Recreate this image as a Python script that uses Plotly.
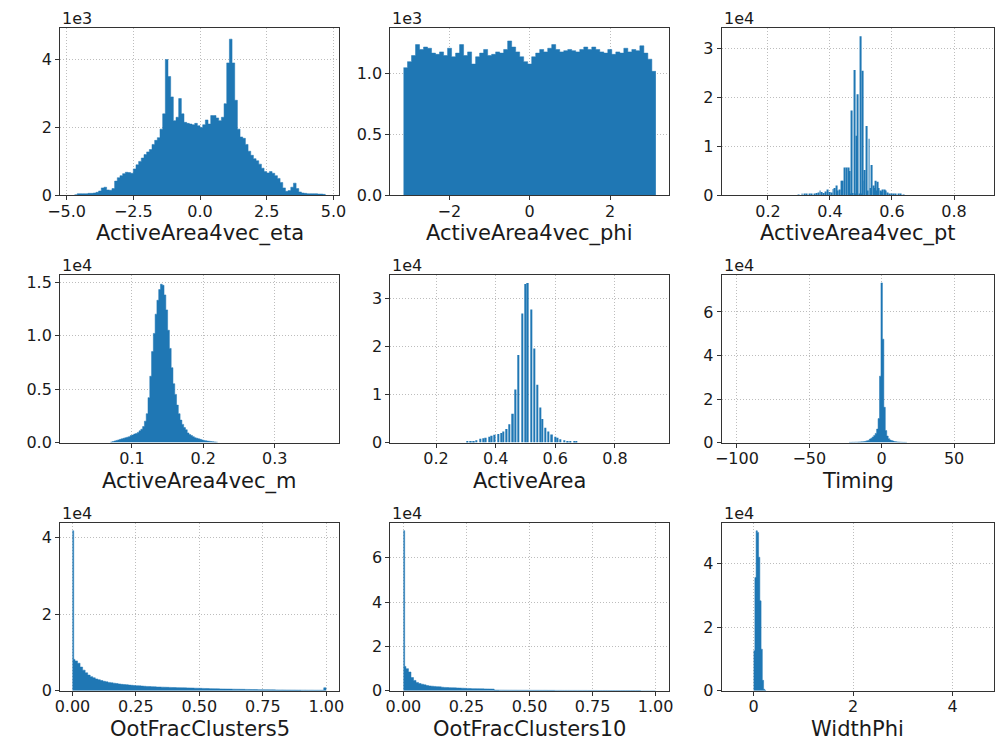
import numpy as np
import plotly.graph_objects as go

BLUE = "#1f77b4"
FONT = "DejaVu Sans"

# ---------------- data ----------------
# ActiveArea4vec_eta : uniform bins, counts in units of 1e3
eta_lo, eta_width = -4.7, 0.1
eta_counts = [0.02, 0.05, 0.05, 0.05, 0.05, 0.06, 0.06, 0.07, 0.09, 0.13,
              0.22, 0.24, 0.16, 0.15, 0.20, 0.42, 0.52, 0.58, 0.64, 0.68,
              0.67, 0.65, 0.78, 0.90, 1.00, 1.10, 1.20, 1.28, 1.35, 1.50,
              1.62, 1.70, 1.95, 2.40, 4.00, 3.50, 2.90, 2.20, 2.30, 2.85,
              2.40, 2.15, 2.12, 2.10, 2.08, 2.12, 2.05,
              2.00, 2.08, 2.22, 2.10, 2.35, 2.35, 2.28, 2.20, 2.30, 2.70,
              3.90, 4.60, 3.90, 2.80, 1.95, 1.72, 1.68, 1.50, 1.30, 1.18,
              1.08, 1.02, 0.92, 0.80, 0.70, 0.66, 0.70, 0.65, 0.58, 0.50,
              0.38, 0.22, 0.12, 0.14, 0.24, 0.36, 0.20, 0.10, 0.07, 0.06,
              0.05, 0.05, 0.05, 0.05, 0.04, 0.04, 0.03]

# ActiveArea4vec_phi : uniform bins over [-pi, pi], counts in 1e3
phi_lo, phi_hi = -3.1416, 3.1416
phi_counts = [1.05, 1.10, 1.15, 1.24, 1.20, 1.22, 1.21, 1.17, 1.16, 1.18,
              1.15, 1.21, 1.14, 1.17, 1.24, 1.15, 1.18, 1.08, 1.14, 1.17,
              1.20, 1.15, 1.16, 1.18, 1.17, 1.20, 1.27, 1.22, 1.18, 1.14,
              1.10, 1.08, 1.14, 1.17, 1.20, 1.18, 1.21, 1.24, 1.20, 1.18,
              1.19, 1.20, 1.19, 1.18, 1.20, 1.22, 1.20, 1.22, 1.20, 1.18,
              1.17, 1.20, 1.16, 1.18, 1.17, 1.21, 1.18, 1.20, 1.19, 1.23,
              1.17, 1.12, 1.02]

# ActiveArea4vec_pt : narrow bins at discrete values, counts in 1e4
pt_x = [0.300, 0.310, 0.318, 0.326, 0.334, 0.342, 0.350, 0.356, 0.362, 0.368,
        0.374, 0.380, 0.386, 0.392, 0.398, 0.404, 0.410, 0.414, 0.420, 0.426,
        0.431, 0.436, 0.442, 0.448, 0.454, 0.459, 0.462, 0.466, 0.470, 0.474,
        0.478, 0.482, 0.486, 0.490, 0.494, 0.498, 0.502, 0.506, 0.510, 0.513,
        0.518, 0.522, 0.526, 0.530, 0.535, 0.540, 0.543, 0.546, 0.550, 0.554,
        0.558, 0.562, 0.566, 0.570, 0.575, 0.580, 0.586, 0.592, 0.598, 0.605,
        0.612, 0.620, 0.628, 0.636]
pt_counts = [0.01, 0.02, 0.02, 0.03, 0.03, 0.03, 0.04, 0.05, 0.06, 0.10,
             0.07, 0.05, 0.08, 0.12, 0.07, 0.06, 0.13, 0.15, 0.20, 0.10,
             0.12, 0.30, 0.30, 0.57, 0.57, 0.57, 0.50, 0.04, 1.74, 0.05,
             2.57, 0.04, 1.22, 2.07, 0.03, 3.26, 0.04, 2.55, 0.30, 0.52,
             1.42, 0.10, 1.16, 0.15, 0.62, 0.20, 0.15, 0.30, 0.10, 0.28,
             0.15, 0.10, 0.08, 0.12, 0.12, 0.10, 0.06, 0.04, 0.03, 0.02,
             0.02, 0.02, 0.02, 0.015]
pt_bar_width = 0.003

# ActiveArea4vec_m : uniform bins, counts in 1e4
m_lo, m_width = 0.07, 0.0025
m_counts = [0.005, 0.010, 0.015, 0.020, 0.025, 0.030, 0.035, 0.040, 0.045, 0.050,
            0.055, 0.065, 0.070, 0.080, 0.085, 0.095, 0.110, 0.125, 0.150, 0.200,
            0.270, 0.420, 0.620, 0.850, 1.020, 1.200, 1.330, 1.430, 1.480, 1.470,
            1.380, 1.240, 1.050, 0.880, 0.700, 0.550, 0.450, 0.350, 0.270, 0.210,
            0.170, 0.140, 0.120, 0.090, 0.075, 0.065, 0.055, 0.045, 0.040, 0.035,
            0.030, 0.025, 0.020, 0.017, 0.014, 0.012, 0.010, 0.008, 0.006, 0.004]

# ActiveArea : narrow bins at discrete values, counts in 1e4
area_x = [0.305, 0.317, 0.327, 0.336, 0.349, 0.358, 0.367, 0.378, 0.387, 0.397,
          0.408, 0.419, 0.426, 0.437, 0.446, 0.458, 0.467, 0.476, 0.490, 0.499,
          0.508, 0.519, 0.529, 0.539, 0.549, 0.557, 0.566, 0.577, 0.589, 0.600,
          0.608, 0.617, 0.630, 0.642, 0.651, 0.663, 0.670]
area_counts = [0.02, 0.02, 0.03, 0.05, 0.08, 0.09, 0.10, 0.12, 0.14, 0.16,
               0.18, 0.20, 0.23, 0.28, 0.38, 0.60, 1.10, 1.82, 2.68, 3.29,
               3.31, 2.76, 1.95, 1.20, 0.73, 0.49, 0.31, 0.23, 0.17, 0.12,
               0.10, 0.07, 0.05, 0.03, 0.03, 0.02, 0.015]
area_bar_width = 0.005

# Timing : uniform bins, counts in 1e4
timing_lo, timing_width = -22.5, 1.0
timing_counts = [0.010, 0.010, 0.015, 0.015, 0.020, 0.020, 0.025, 0.030, 0.035, 0.040,
                 0.050, 0.060, 0.080, 0.100, 0.160, 0.200, 0.260, 0.330, 0.420, 0.620,
                 1.100, 3.050, 7.330, 4.750, 1.620, 0.550, 0.300, 0.180, 0.120, 0.090,
                 0.070, 0.050, 0.040, 0.030, 0.025, 0.020, 0.015, 0.010, 0.010, 0.008]

# OotFracClusters5 / 10 : first two narrow bins (0.005) then 0.01 bins, counts in 1e4
oot_edges = [0.0, 0.005] + [round(0.01 * k, 3) for k in range(1, 101)]
oot5_counts = [4.17, 0.82,
               0.78, 0.72, 0.62, 0.54, 0.47, 0.41, 0.37, 0.34, 0.31, 0.29,
               0.27, 0.25, 0.235, 0.22, 0.21, 0.20, 0.19, 0.18, 0.17, 0.165,
               0.16, 0.15, 0.145, 0.14, 0.135, 0.13, 0.125, 0.12, 0.115, 0.112,
               0.11, 0.105, 0.10, 0.10, 0.097, 0.095, 0.092, 0.09, 0.088, 0.086,
               0.084, 0.082, 0.08, 0.078, 0.077, 0.075, 0.073, 0.07, 0.068, 0.066,
               0.064, 0.062, 0.06, 0.058, 0.056, 0.054, 0.052, 0.05, 0.049, 0.048,
               0.047, 0.046, 0.044, 0.043, 0.042, 0.041, 0.04, 0.038, 0.037, 0.035,
               0.034, 0.033, 0.032, 0.031, 0.03, 0.029, 0.028, 0.027, 0.026, 0.025,
               0.024, 0.024, 0.023, 0.022, 0.022, 0.021, 0.021, 0.02, 0.02, 0.019,
               0.019, 0.018, 0.018, 0.018, 0.017, 0.017, 0.017, 0.016, 0.08]
oot10_counts = [7.22, 1.10,
                1.00, 0.85, 0.60, 0.47, 0.38, 0.33, 0.30, 0.27, 0.24, 0.22,
                0.21, 0.20, 0.19, 0.18, 0.165, 0.155, 0.15, 0.145, 0.14, 0.135,
                0.13, 0.125, 0.12, 0.115, 0.11, 0.105, 0.10, 0.10, 0.095, 0.092,
                0.09, 0.088, 0.085, 0.083, 0.08, 0.035, 0.034, 0.033, 0.032, 0.031,
                0.03, 0.03, 0.029, 0.029, 0.028, 0.028, 0.027, 0.027, 0.026, 0.026,
                0.025, 0.025, 0.025, 0.024, 0.024, 0.024, 0.023, 0.023, 0.023, 0.022,
                0.022, 0.022, 0.021, 0.021, 0.021, 0.02, 0.02, 0.02, 0.02, 0.019,
                0.019, 0.019, 0.018, 0.018, 0.018, 0.018, 0.017, 0.017, 0.017, 0.017,
                0.016, 0.016, 0.016, 0.016, 0.015, 0.015, 0.015, 0.015, 0.015, 0.014,
                0.014, 0.014, 0.014, 0.0, 0.0, 0.0, 0.0, 0.0, 0.002]

# WidthPhi : uniform bins, counts in 1e4
wphi_lo, wphi_width = 0.0, 0.025
wphi_counts = [1.26, 3.56, 5.03, 4.98, 4.20, 2.83, 1.31, 0.33, 0.05, 0.01]

# ---------------- helpers ----------------
def uniform_edges(lo, width, counts):
    return [lo + width * i for i in range(len(counts) + 1)]

def step_trace(edges, counts, n):
    # filled step outline of a histogram (contiguous bins, no seams)
    ys = list(counts) + [counts[-1]]
    return go.Scatter(x=list(edges), y=ys, mode="lines",
                      line=dict(shape="hv", width=0.5, color=BLUE),
                      fill="tozeroy", fillcolor=BLUE,
                      xaxis="x" + n, yaxis="y" + n, hoverinfo="x+y")

def bar_trace(xs, counts, width, n):
    return go.Bar(x=xs, y=counts, width=[width] * len(xs),
                  marker=dict(color=BLUE, line=dict(width=0)),
                  xaxis="x" + n, yaxis="y" + n, hoverinfo="x+y")

phi_w = (phi_hi - phi_lo) / len(phi_counts)

panels = [
    dict(name="ActiveArea4vec_eta", step=(uniform_edges(eta_lo, eta_width, eta_counts), eta_counts),
         xr=[-5.245, 5.22], xt=[-5, -2.5, 0, 2.5, 5], xl=["\u22125.0", "\u22122.5", "0.0", "2.5", "5.0"],
         yr=[0, 4.94], yt=[0, 2, 4], yl=["0", "2", "4"], off="1e3"),
    dict(name="ActiveArea4vec_phi", step=(uniform_edges(phi_lo, phi_w, phi_counts), phi_counts),
         xr=[-3.47, 3.46], xt=[-2, 0, 2], xl=["\u22122", "0", "2"],
         yr=[0, 1.38], yt=[0, 0.5, 1.0], yl=["0.0", "0.5", "1.0"], off="1e3"),
    dict(name="ActiveArea4vec_pt", bars=(pt_x, pt_counts, pt_bar_width),
         xr=[0.0505, 0.929], xt=[0.2, 0.4, 0.6, 0.8], xl=["0.2", "0.4", "0.6", "0.8"],
         yr=[0, 3.436], yt=[0, 1, 2, 3], yl=["0", "1", "2", "3"], off="1e4"),
    dict(name="ActiveArea4vec_m", step=(uniform_edges(m_lo, m_width, m_counts), m_counts),
         xr=[-0.0007, 0.3906], xt=[0.1, 0.2, 0.3], xl=["0.1", "0.2", "0.3"],
         yr=[0, 1.567], yt=[0, 0.5, 1.0, 1.5], yl=["0.0", "0.5", "1.0", "1.5"], off="1e4"),
    dict(name="ActiveArea", bars=(area_x, area_counts, area_bar_width),
         xr=[0.0467, 0.98], xt=[0.2, 0.4, 0.6, 0.8], xl=["0.2", "0.4", "0.6", "0.8"],
         yr=[0, 3.48], yt=[0, 1, 2, 3], yl=["0", "1", "2", "3"], off="1e4"),
    dict(name="Timing", step=(uniform_edges(timing_lo, timing_width, timing_counts), timing_counts),
         xr=[-110.6, 77.6], xt=[-100, -50, 0, 50], xl=["\u2212100", "\u221250", "0", "50"],
         yr=[0, 7.7], yt=[0, 2, 4, 6], yl=["0", "2", "4", "6"], off="1e4"),
    dict(name="OotFracClusters5", step=(oot_edges, oot5_counts),
         xr=[-0.0489, 1.0515], xt=[0, 0.25, 0.5, 0.75, 1.0], xl=["0.00", "0.25", "0.50", "0.75", "1.00"],
         yr=[0, 4.376], yt=[0, 2, 4], yl=["0", "2", "4"], off="1e4"),
    dict(name="OotFracClusters10", step=(oot_edges, oot10_counts),
         xr=[-0.052, 1.0517], xt=[0, 0.25, 0.5, 0.75, 1.0], xl=["0.00", "0.25", "0.50", "0.75", "1.00"],
         yr=[0, 7.57], yt=[0, 2, 4, 6], yl=["0", "2", "4", "6"], off="1e4"),
    dict(name="WidthPhi", step=(uniform_edges(wphi_lo, wphi_width, wphi_counts), wphi_counts),
         xr=[-0.644, 4.83], xt=[0, 2, 4], xl=["0", "2", "4"],
         yr=[0, 5.28], yt=[0, 2, 4], yl=["0", "2", "4"], off="1e4"),
]

# ---------------- layout geometry (screen pixels) ----------------
W, H = 1002, 754
cols_px = [(48, 333), (385, 669), (723, 1001)]
rows_px = [(26, 196.5), (277.3, 447.7), (529.3, 700)]

fig = go.Figure()
layout = dict(
    width=W, height=H, margin=dict(l=0, r=0, t=0, b=0),
    paper_bgcolor="white", plot_bgcolor="white",
    showlegend=False, font=dict(family=FONT, size=16, color="black"),
    annotations=[],
)

for i, p in enumerate(panels):
    r, c = divmod(i, 3)
    n = "" if i == 0 else str(i + 1)
    (L, R), (T, B) = cols_px[c], rows_px[r]
    xd = [L / W, R / W]
    yd = [1 - B / H, 1 - T / H]
    if "step" in p:
        fig.add_trace(step_trace(p["step"][0], p["step"][1], n))
    else:
        fig.add_trace(bar_trace(*p["bars"], n))
    common = dict(showline=True, mirror=True, linecolor="#333333", linewidth=1,
                  ticks="outside", ticklen=4, tickwidth=1, tickcolor="#333333",
                  showgrid=True, gridcolor="#bdbdbd", griddash="1px,2px", gridwidth=1,
                  zeroline=False, tickfont=dict(family=FONT, size=16, color="#1a1a1a"),
                  tickmode="array")
    layout["xaxis" + n] = dict(common, domain=xd, anchor="y" + n, range=p["xr"],
                               tickvals=p["xt"], ticktext=p["xl"], ticklabelstandoff=-3)
    layout["yaxis" + n] = dict(common, domain=yd, anchor="x" + n, range=p["yr"],
                               tickvals=p["yt"], ticktext=p["yl"])
    # axis label
    layout["annotations"].append(dict(
        text=p["name"], xref="paper", yref="paper", x=(xd[0] + xd[1]) / 2, y=yd[0],
        xanchor="center", yanchor="top", yshift=-24, showarrow=False,
        font=dict(family=FONT, size=21, color="#1a1a1a")))
    # offset (scale) text
    layout["annotations"].append(dict(
        text=p["off"], xref="paper", yref="paper", x=xd[0], y=yd[1],
        xanchor="left", yanchor="bottom", xshift=0, yshift=-2, showarrow=False,
        font=dict(family=FONT, size=16, color="#1a1a1a")))

fig.update_layout(**layout)
fig.write_html("out.html")
